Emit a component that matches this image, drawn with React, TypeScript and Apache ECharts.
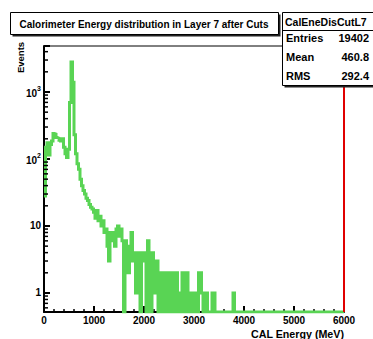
import React, { useEffect, useRef } from 'react';
import * as echarts from 'echarts';

const FONT = '"Liberation Sans", Arial, Helvetica, sans-serif';
const HIST_COLOR = '#59d454';

// Texts
const histTitle = 'Calorimeter Energy distribution in Layer 7 after Cuts';
const statsName = 'CalEneDisCutL7';
const statsLabels = ['Entries', 'Mean', 'RMS'];
const statsValues = ['19402', '460.8', '292.4'];
const xTitle = 'CAL Energy (MeV)';
const yTitle = 'Events';

// Binning (MeV)
const binLow = 0;
const binWidth = 30;

// Bin contents, 200 bins of 30 MeV from 0 to 6000 MeV
const counts = [
  28, 150, 175, 115, 165, 185, 240, 235, 210, 205,
  190, 185, 200, 150, 120, 105, 140, 700, 2800, 1400,
  230, 120, 85, 70, 50, 40, 34, 30, 26, 24,
  21, 19, 18, 16, 13, 17, 12, 14, 10, 12,
  8, 9, 5, 3, 8, 6, 8, 5, 9, 10,
  7, 9, 6, 0, 6, 4, 2, 5, 8, 3,
  4, 1, 4, 3, 0, 4, 3, 4, 0, 6,
  3, 0, 4, 3, 1, 3, 0, 2, 0, 2,
  0, 2, 1, 0, 2, 0, 2, 0, 2, 0,
  1, 0, 2, 0, 2, 2, 0, 1, 0, 1,
  0, 1, 0, 2, 2, 1, 0, 0, 1, 0,
  0, 0, 1, 1, 0, 0, 0, 0, 0, 0,
  0, 0, 0, 0, 0, 0, 1, 0, 0, 0,
  0, 0, 0, 0, 0, 0, 0, 0, 0, 0,
  0, 0, 0, 0, 0, 0, 0, 0, 0, 0,
  0, 0, 0, 0, 0, 0, 0, 0, 0, 0,
  0, 0, 0, 0, 0, 0, 0, 0, 0, 0,
  0, 0, 0, 0, 0, 0, 0, 0, 0, 0,
  0, 0, 0, 0, 0, 0, 0, 0, 0, 0,
  0, 0, 0, 0, 0, 0, 0, 0, 0, 0,
];

// Axes
const xMin = 0;
const xMax = 6000;
const xStep = 1000;
const yMin = 0.52;
const yMax = 4860;
const yMinorTicks = [
  0.6, 0.7, 0.8, 0.9,
  2, 3, 4, 5, 6, 7, 8, 9,
  20, 30, 40, 50, 60, 70, 80, 90,
  200, 300, 400, 500, 600, 700, 800, 900,
  2000, 3000, 4000,
];
const cutLineX = 6000;

export default function App() {
  const ref = useRef<HTMLDivElement>(null);

  useEffect(() => {
    if (!ref.current) return;
    const chart = echarts.init(ref.current, undefined, { renderer: 'svg' });

    // Step outline: empty bins sit on the bottom of the frame (log scale)
    const stepData: number[][] = counts.map((c, i) => [binLow + i * binWidth, c > 0 ? c : yMin]);
    const last = counts[counts.length - 1];
    stepData.push([binLow + counts.length * binWidth, last > 0 ? last : yMin]);

    const boldText = (size: number) => ({
      fontFamily: FONT,
      fontWeight: 'bold' as const,
      fontSize: size,
      fill: '#000',
    });

    const option: any = {
      animation: false,
      backgroundColor: '#fff',
      grid: {
        left: 44,
        right: 29,
        top: 46,
        bottom: 27,
        show: true,
        borderColor: '#000',
        borderWidth: 1,
        backgroundColor: 'transparent',
      },
      xAxis: {
        type: 'value',
        min: xMin,
        max: xMax,
        interval: xStep,
        axisLine: { show: true, onZero: false, lineStyle: { color: '#000', width: 2 } },
        axisTick: { show: true, inside: true, length: 6, lineStyle: { color: '#000', width: 2 } },
        minorTick: { show: true, splitNumber: 5, length: 3, lineStyle: { color: '#000', width: 1.5 } },
        splitLine: { show: false },
        minorSplitLine: { show: false },
        axisLabel: {
          margin: 3,
          color: '#000',
          fontFamily: FONT,
          fontWeight: 'bold',
          fontSize: 10,
          formatter: (v: number) => String(v),
        },
      },
      yAxis: {
        type: 'log',
        logBase: 10,
        min: yMin,
        max: yMax,
        axisLine: { show: true, onZero: false, lineStyle: { color: '#000', width: 2 } },
        axisTick: { show: true, inside: true, length: 6, lineStyle: { color: '#000', width: 2 } },
        splitLine: { show: false },
        axisLabel: {
          margin: 3,
          color: '#000',
          fontFamily: FONT,
          fontWeight: 'bold',
          fontSize: 10,
          formatter: (v: number) => {
            const lg = Math.log10(v);
            const e = Math.round(lg);
            if (Math.abs(lg - e) > 1e-6) return '';
            if (e === 0) return '1';
            if (e === 1) return '10';
            return `{b|10}{s|${e}}`;
          },
          rich: {
            b: { fontFamily: FONT, fontWeight: 'bold', fontSize: 10, color: '#000', lineHeight: 14, verticalAlign: 'bottom' },
            s: { fontFamily: FONT, fontWeight: 'bold', fontSize: 7, color: '#000', lineHeight: 14, verticalAlign: 'top' },
          },
        },
      },
      series: [
        {
          type: 'line',
          step: 'end',
          data: stepData,
          showSymbol: false,
          symbol: 'none',
          clip: true,
          lineStyle: { color: HIST_COLOR, width: 3, join: 'miter' },
          z: 2,
          markLine: {
            silent: true,
            symbol: 'none',
            label: { show: false },
            lineStyle: { color: '#e00000', width: 2, type: 'solid' },
            data: [{ xAxis: cutLineX }],
          },
        },
        {
          // logarithmic minor ticks on the Y axis
          type: 'custom',
          coordinateSystem: 'cartesian2d',
          silent: true,
          clip: false,
          z: 5,
          data: yMinorTicks.map((v) => [xMin, v]),
          renderItem: (_params: any, api: any) => {
            const p = api.coord([api.value(0), api.value(1)]);
            return {
              type: 'line',
              shape: { x1: p[0], y1: p[1], x2: p[0] + 4, y2: p[1] },
              style: { stroke: '#000', lineWidth: 1.5 },
            };
          },
        },
      ],
      graphic: [
        // title pave
        { type: 'rect', z: 100, shape: { x: 12.5, y: 14.5, width: 268, height: 22 }, style: { fill: '#222' } },
        { type: 'rect', z: 101, shape: { x: 10.5, y: 12.5, width: 268, height: 22 }, style: { fill: '#fff', stroke: '#000', lineWidth: 1 } },
        {
          type: 'text', z: 102, x: 144, y: 24,
          style: { ...boldText(10), text: histTitle, align: 'center', verticalAlign: 'middle' },
        },
        // statistics box
        { type: 'rect', z: 100, shape: { x: 284.5, y: 14.5, width: 100, height: 73 }, style: { fill: '#222' } },
        { type: 'rect', z: 101, shape: { x: 282.5, y: 12.5, width: 100, height: 73 }, style: { fill: '#fff', stroke: '#000', lineWidth: 1 } },
        { type: 'line', z: 102, shape: { x1: 282.5, y1: 30.5, x2: 373, y2: 30.5 }, style: { stroke: '#000', lineWidth: 1 } },
        {
          type: 'text', z: 103, x: 285, y: 21.5,
          style: { ...boldText(10.5), text: statsName, align: 'left', verticalAlign: 'middle' },
        },
        ...statsLabels.map((lab, i) => ({
          type: 'text', z: 103, x: 286, y: 38 + i * 19,
          style: { ...boldText(11), text: lab, align: 'left', verticalAlign: 'middle' },
        })),
        ...statsValues.map((val, i) => ({
          type: 'text', z: 103, x: 369, y: 38 + i * 19,
          style: { ...boldText(11), text: val, align: 'right', verticalAlign: 'middle' },
        })),
        // axis titles
        {
          type: 'text', z: 100, x: 20.5, y: 57.5, rotation: Math.PI / 2,
          style: { ...boldText(9.5), text: yTitle, align: 'center', verticalAlign: 'middle' },
        },
        {
          type: 'text', z: 100, x: 344, y: 334,
          style: { ...boldText(10.7), text: xTitle, align: 'right', verticalAlign: 'middle' },
        },
      ],
    };

    chart.setOption(option);
    return () => chart.dispose();
  }, []);

  return (
    <div
      ref={ref}
      style={{ position: 'fixed', left: 0, top: 0, width: 373, height: 339, background: '#fff' }}
    />
  );
}
